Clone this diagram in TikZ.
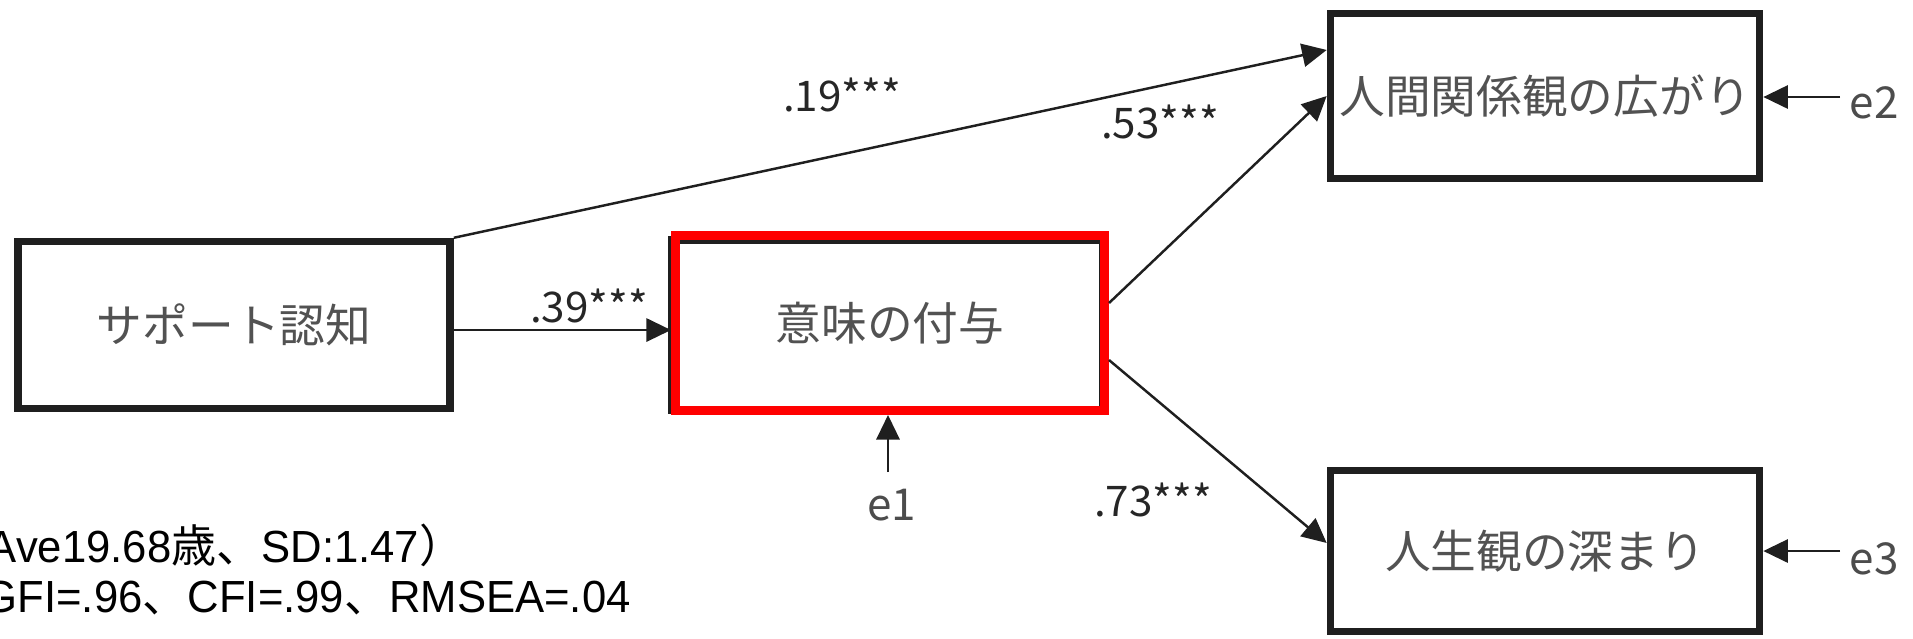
\documentclass[tikz,border=0pt]{standalone}
\usepackage{fontspec}
\setmainfont{Liberation Sans}
\newfontfamily\jp{Noto Sans CJK JP}
\newfontfamily\notefont[FakeStretch=0.97]{Liberation Sans}
\usetikzlibrary{arrows.meta}
\begin{document}
\begin{tikzpicture}[x=0.01cm,y=-0.01cm,
  box/.style={draw=black!88, line width=2.1pt, minimum width=4.30cm, minimum height=1.66cm, inner sep=0pt,
    font=\jp\fontsize{13}{15}\selectfont, text=black!68},
  redbox/.style={box, draw=red, line width=2.5pt},
  arr/.style={-{Triangle[length=7pt,width=6.6pt]}, line width=0.7pt, draw=black!88},
  lab/.style={font=\jp\fontsize{12}{13}\selectfont, text=black!85, inner sep=0pt},
  err/.style={font=\jp\fontsize{12.5}{14}\selectfont, text=black!70, inner sep=0pt},
  note/.style={font=\notefont\fontsize{12.8}{15}\selectfont, text=black, anchor=base west, inner sep=0pt},
]
\useasboundingbox (0,0) rectangle (1913,638);

\node[box, minimum width=4.32cm, minimum height=1.67cm] (sup) at (234,325) {サポート認知};
\node[box, minimum width=4.31cm, minimum height=1.70cm] (meanb) at (887,325) {};
\node[redbox, minimum width=4.29cm, minimum height=1.75cm] (mean) at (890,323) {意味の付与};
\node[box, minimum width=4.29cm, minimum height=1.65cm] (rel) at (1545,96) {人間関係観の広がり};
\node[box, minimum width=4.29cm, minimum height=1.61cm] (life) at (1545,551) {人生観の深まり};

% paths
\draw[arr] ([yshift=-0.05cm]sup.east) -- ([yshift=-0.05cm]sup.east -| mean.west);
\node[lab] (l39) at (589,306) {.39***};
\draw[arr] (sup.north east) -- ([yshift=0.46cm]rel.west);
\node[lab] (l19) at (842,95) {.19***};
\draw[arr] ([yshift=0.2cm]mean.east) -- (rel.west);
\node[lab] (l53) at (1160,122) {.53***};
\draw[arr] ([yshift=-0.37cm]mean.east) -- ([yshift=0.08cm]life.west);
\node[lab] (l73) at (1153,500) {.73***};

% errors
\node[err] (e1) at (892,505) {e1};
\coordinate (e1s) at (888,472);
\draw[arr] (e1s) -- (e1s |- mean.south);
\node[err] (e2) at (1874,103) {e2};
\coordinate (e2s) at (1840,97);
\draw[arr] (e2s) -- (e2s -| rel.east);
\node[err] (e3) at (1874,559) {e3};
\coordinate (e3s) at (1840,551);
\draw[arr] (e3s) -- (e3s -| life.east);

% note
\node[note] (n1) at (-13,562) {Ave19.68{\jp 歳、}SD:1.47{\jp ）}};
\node[note] (n2) at (-17,612) {GFI=.96{\jp 、}CFI=.99{\jp 、}RMSEA=.04};
\end{tikzpicture}
\end{document}
